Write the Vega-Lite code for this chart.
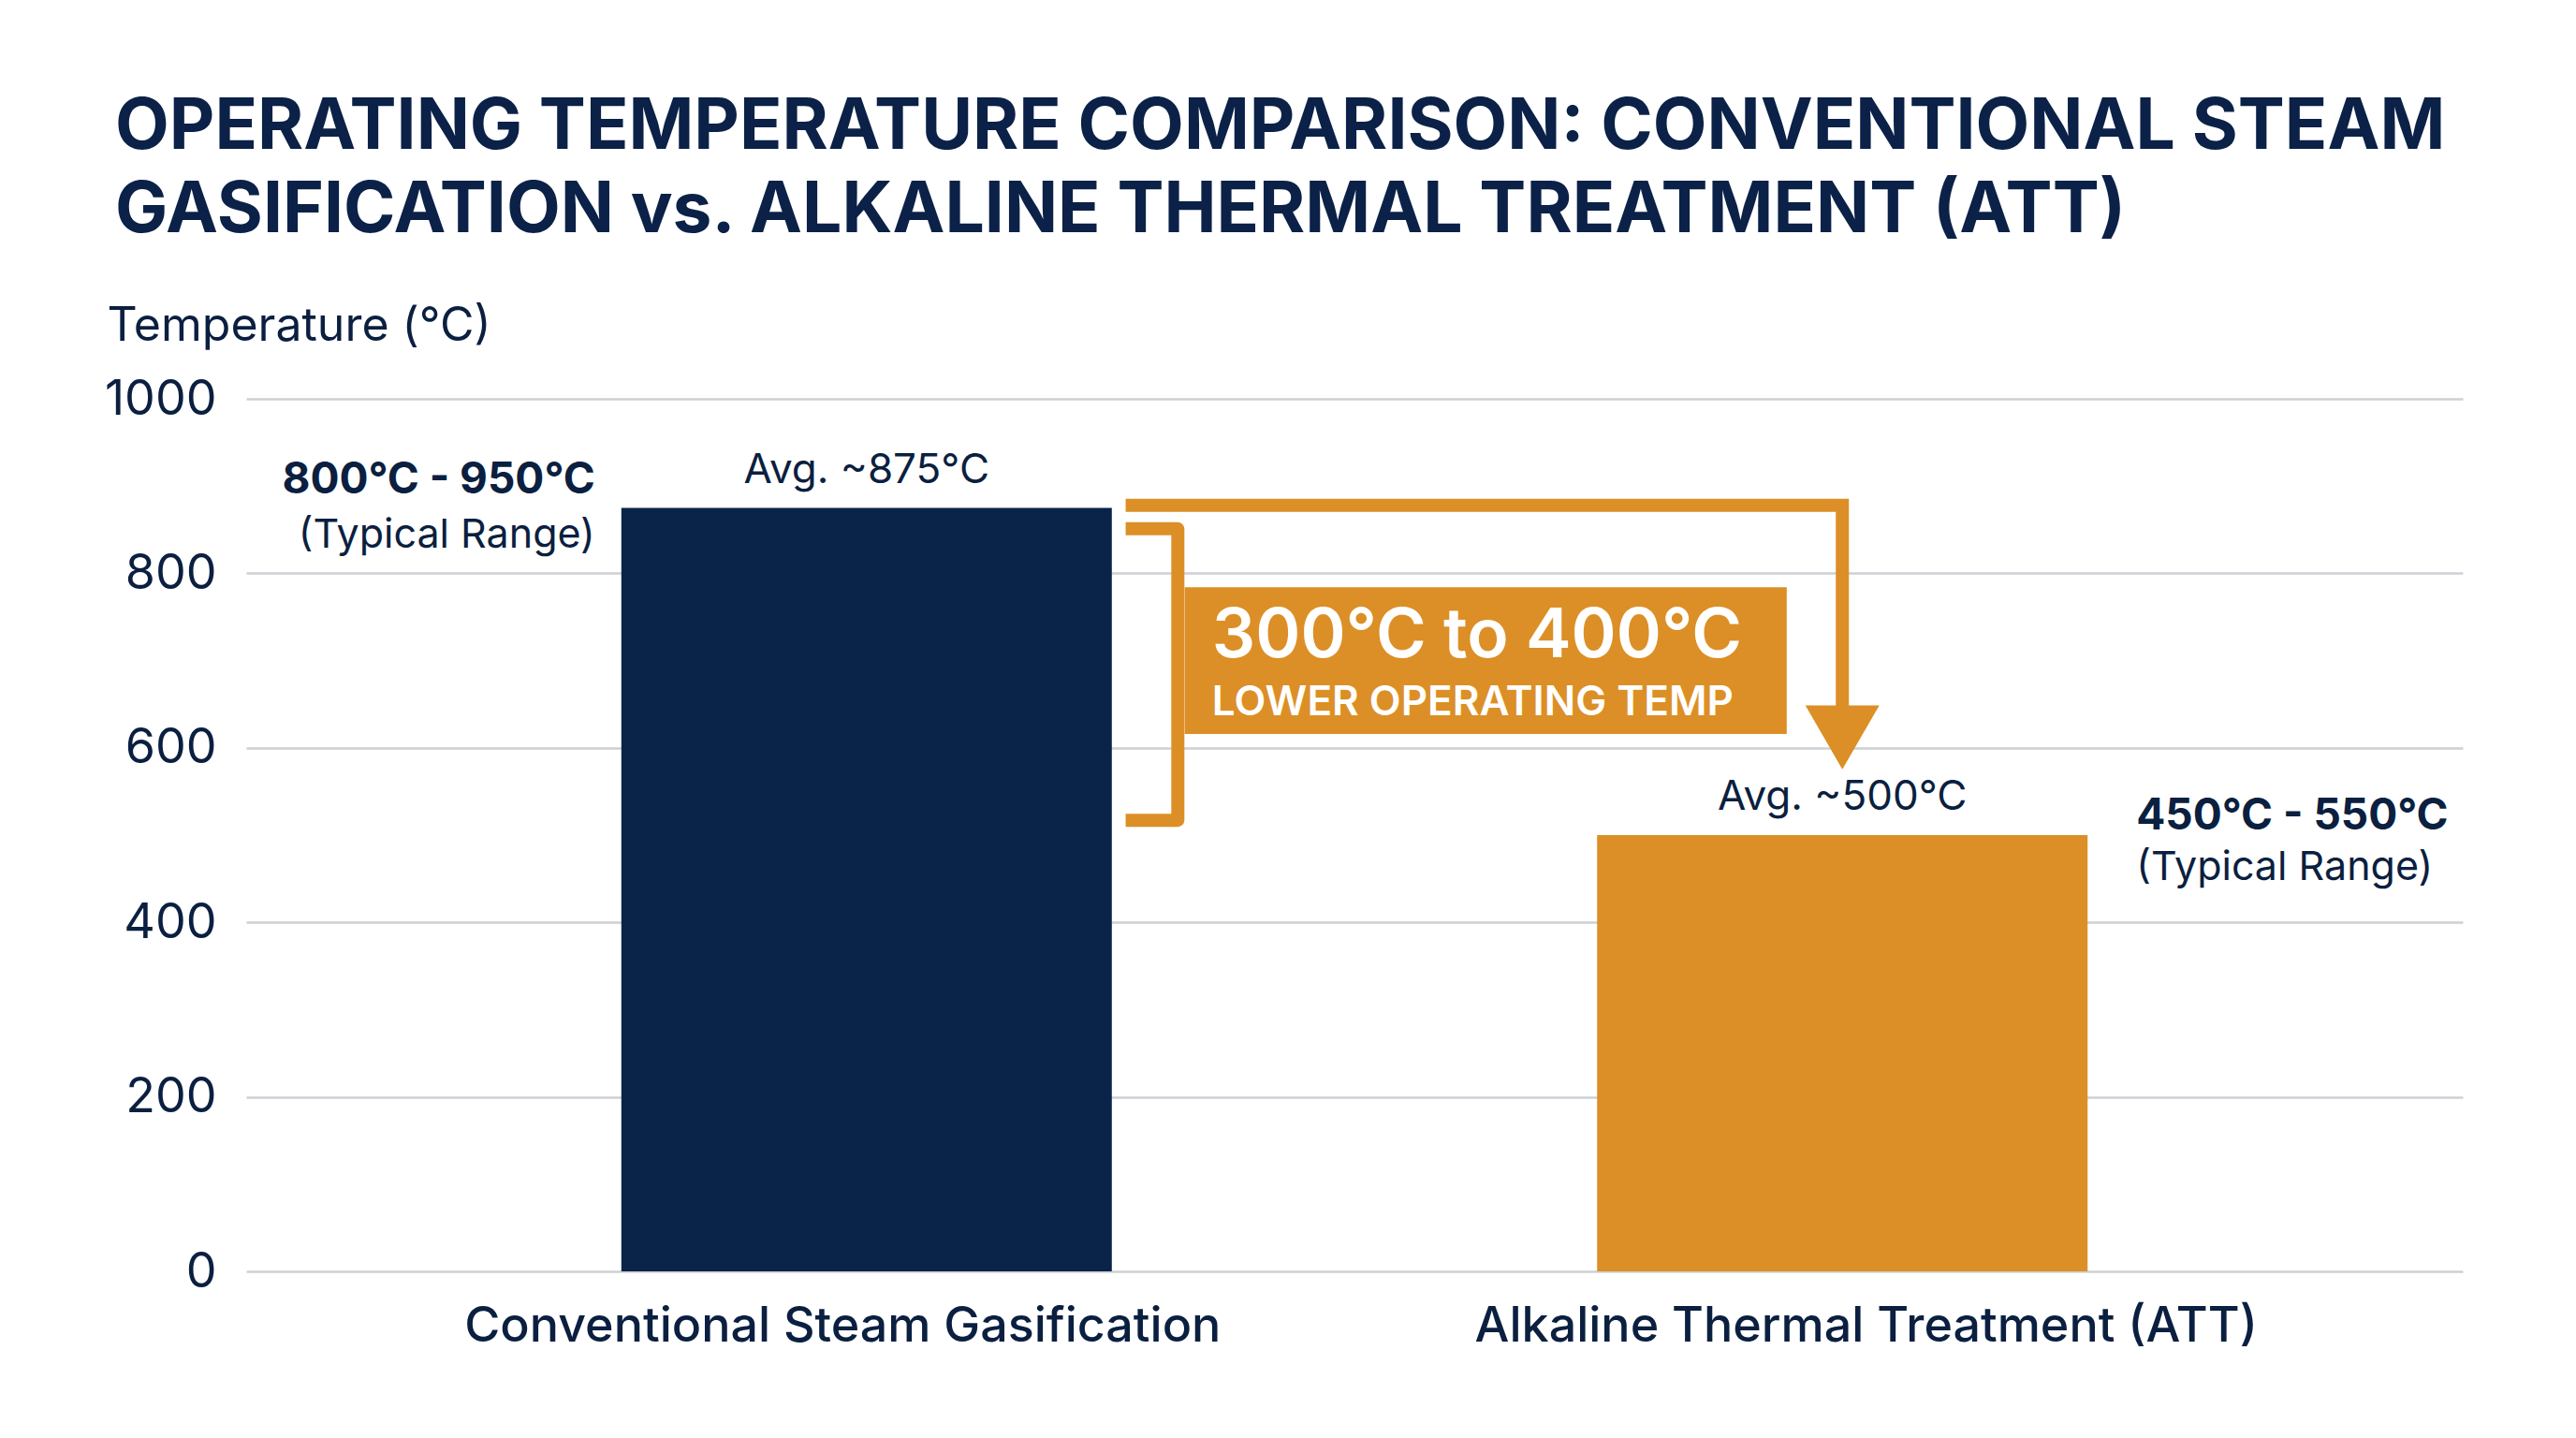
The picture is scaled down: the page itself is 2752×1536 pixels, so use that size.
{
  "$schema": "https://vega.github.io/schema/vega-lite/v6.json",
  "width": 2368,
  "height": 932,
  "autosize": {"type": "none"},
  "padding": {"left": 263, "top": 426, "right": 121, "bottom": 178},
  "background": "white",
  "config": {"view": {"stroke": null}, "font": "Inter"},
  "title": {
    "text": ["OPERATING TEMPERATURE COMPARISON: CONVENTIONAL STEAM", "GASIFICATION vs. ALKALINE THERMAL TREATMENT (ATT)"],
    "anchor": "start",
    "frame": "group",
    "baseline": "alphabetic",
    "dx": -140,
    "offset": 0,
    "font": "Inter",
    "fontSize": 75,
    "fontWeight": "bold",
    "lineHeight": 89,
    "color": "#0b2147"
  },
  "datasets": {
    "bars": [
      {"category": "Conventional Steam Gasification", "idx": 1, "avg": 875, "avgLabel": "Avg. ~875°C", "range": "800°C - 950°C", "note": "(Typical Range)"},
      {"category": "Alkaline Thermal Treatment (ATT)", "idx": 2, "avg": 500, "avgLabel": "Avg. ~500°C", "range": "450°C - 550°C", "note": "(Typical Range)"}
    ],
    "bracket": [
      {"ax": 1.2655, "ay": 851, "o": 1},
      {"ax": 1.319, "ay": 851, "o": 2},
      {"ax": 1.319, "ay": 517, "o": 3},
      {"ax": 1.2655, "ay": 517, "o": 4}
    ],
    "arrow": [
      {"ax": 1.2655, "ay": 878, "o": 1},
      {"ax": 2.0, "ay": 878, "o": 2},
      {"ax": 2.0, "ay": 645, "o": 3}
    ],
    "head": [{"ax": 2.0, "ay": 612}],
    "box": [{"ax": 1.326, "ax2": 1.943, "ay": 784, "ay2": 616}],
    "boxText": [
      {"ax": 1.354, "ay": 727, "text": "300°C to 400°C", "kind": "big"},
      {"ax": 1.354, "ay": 651, "text": "LOWER OPERATING TEMP", "kind": "small"}
    ]
  },
  "layer": [
    {
      "data": {"name": "bars"},
      "mark": {"type": "bar", "orient": "vertical", "width": 524},
      "encoding": {
        "x": {
          "field": "idx", "type": "quantitative",
          "scale": {"domain": [0.369, 2.631], "nice": false, "zero": false},
          "axis": {
            "values": [1, 2],
            "labelExpr": "datum.value == 1 ? 'Conventional Steam Gasification' : 'Alkaline Thermal Treatment (ATT)'",
            "grid": false, "ticks": false, "domain": false,
            "labelPadding": 33, "labelFontSize": 52, "labelFont": "Inter", "labelFontWeight": 500, "labelLimit": 2000,
            "labelColor": "#0b1f40", "labelFlush": false, "labelOverlap": false,
            "labelOffset": {"condition": {"test": "datum.value == 1", "value": -26}, "value": 25},
            "title": null
          }
        },
        "y": {
          "field": "avg", "type": "quantitative",
          "scale": {"domain": [0, 1000], "nice": false},
          "axis": {
            "values": [0, 200, 400, 600, 800, 1000], "format": "d",
            "grid": true, "gridColor": "#cdd0d4", "gridWidth": 2.5,
            "domain": false, "ticks": false,
            "labelPadding": 32, "labelFontSize": 52, "labelFont": "Inter", "labelColor": "#0b1f40",
            "title": "Temperature (°C)", "titleAngle": 0, "titleAlign": "left", "titleBaseline": "middle",
            "titleX": -149, "titleY": -78, "titleFontSize": 50, "titleFontWeight": "normal",
            "titleFont": "Inter", "titleColor": "#0b1f40"
          }
        },
        "color": {
          "field": "category", "type": "nominal",
          "scale": {"domain": ["Conventional Steam Gasification", "Alkaline Thermal Treatment (ATT)"], "range": ["#0a2449", "#dc8f26"]},
          "legend": null
        }
      }
    },
    {
      "data": {"name": "bars"},
      "mark": {"type": "text", "dy": -40, "fontSize": 44, "color": "#0b1f40", "baseline": "middle", "align": "center"},
      "encoding": {
        "x": {"field": "idx", "type": "quantitative"},
        "y": {"field": "avg", "type": "quantitative"},
        "text": {"field": "avgLabel"}
      }
    },
    {
      "data": {"name": "bars"},
      "transform": [{"filter": "datum.idx == 1"}],
      "mark": {"type": "text", "dx": -290, "dy": -30, "fontSize": 46, "fontWeight": "bold", "color": "#0b1f40", "baseline": "middle", "align": "right"},
      "encoding": {
        "x": {"field": "idx", "type": "quantitative"},
        "y": {"field": "avg", "type": "quantitative"},
        "text": {"field": "range"}
      }
    },
    {
      "data": {"name": "bars"},
      "transform": [{"filter": "datum.idx == 1"}],
      "mark": {"type": "text", "dx": -290, "dy": 29, "fontSize": 43, "color": "#0b1f40", "baseline": "middle", "align": "right"},
      "encoding": {
        "x": {"field": "idx", "type": "quantitative"},
        "y": {"field": "avg", "type": "quantitative"},
        "text": {"field": "note"}
      }
    },
    {
      "data": {"name": "bars"},
      "transform": [{"filter": "datum.idx == 2"}],
      "mark": {"type": "text", "dx": 314, "dy": -20, "fontSize": 46, "fontWeight": "bold", "color": "#0b1f40", "baseline": "middle", "align": "left"},
      "encoding": {
        "x": {"field": "idx", "type": "quantitative"},
        "y": {"field": "avg", "type": "quantitative"},
        "text": {"field": "range"}
      }
    },
    {
      "data": {"name": "bars"},
      "transform": [{"filter": "datum.idx == 2"}],
      "mark": {"type": "text", "dx": 314, "dy": 35, "fontSize": 43, "color": "#0b1f40", "baseline": "middle", "align": "left"},
      "encoding": {
        "x": {"field": "idx", "type": "quantitative"},
        "y": {"field": "avg", "type": "quantitative"},
        "text": {"field": "note"}
      }
    },
    {
      "data": {"name": "bracket"},
      "mark": {"type": "line", "color": "#dc8f26", "strokeWidth": 14, "strokeJoin": "round", "strokeCap": "butt"},
      "encoding": {
        "x": {"field": "ax", "type": "quantitative"},
        "y": {"field": "ay", "type": "quantitative"},
        "order": {"field": "o"}
      }
    },
    {
      "data": {"name": "arrow"},
      "mark": {"type": "line", "color": "#dc8f26", "strokeWidth": 14, "strokeJoin": "miter", "strokeCap": "butt"},
      "encoding": {
        "x": {"field": "ax", "type": "quantitative"},
        "y": {"field": "ay", "type": "quantitative"},
        "order": {"field": "o"}
      }
    },
    {
      "data": {"name": "head"},
      "mark": {"type": "point", "shape": "triangle-down", "size": 6241, "filled": true, "color": "#dc8f26", "opacity": 1},
      "encoding": {
        "x": {"field": "ax", "type": "quantitative"},
        "y": {"field": "ay", "type": "quantitative"}
      }
    },
    {
      "data": {"name": "box"},
      "mark": {"type": "rect", "color": "#dc8f26"},
      "encoding": {
        "x": {"field": "ax", "type": "quantitative"},
        "x2": {"field": "ax2"},
        "y": {"field": "ay", "type": "quantitative"},
        "y2": {"field": "ay2"}
      }
    },
    {
      "data": {"name": "boxText"},
      "transform": [{"filter": "datum.kind == 'big'"}],
      "mark": {"type": "text", "fontSize": 73, "fontWeight": 600, "color": "white", "align": "left", "baseline": "middle"},
      "encoding": {
        "x": {"field": "ax", "type": "quantitative"},
        "y": {"field": "ay", "type": "quantitative"},
        "text": {"field": "text"}
      }
    },
    {
      "data": {"name": "boxText"},
      "transform": [{"filter": "datum.kind == 'small'"}],
      "mark": {"type": "text", "fontSize": 44, "fontWeight": 600, "color": "white", "align": "left", "baseline": "middle"},
      "encoding": {
        "x": {"field": "ax", "type": "quantitative"},
        "y": {"field": "ay", "type": "quantitative"},
        "text": {"field": "text"}
      }
    }
  ]
}
